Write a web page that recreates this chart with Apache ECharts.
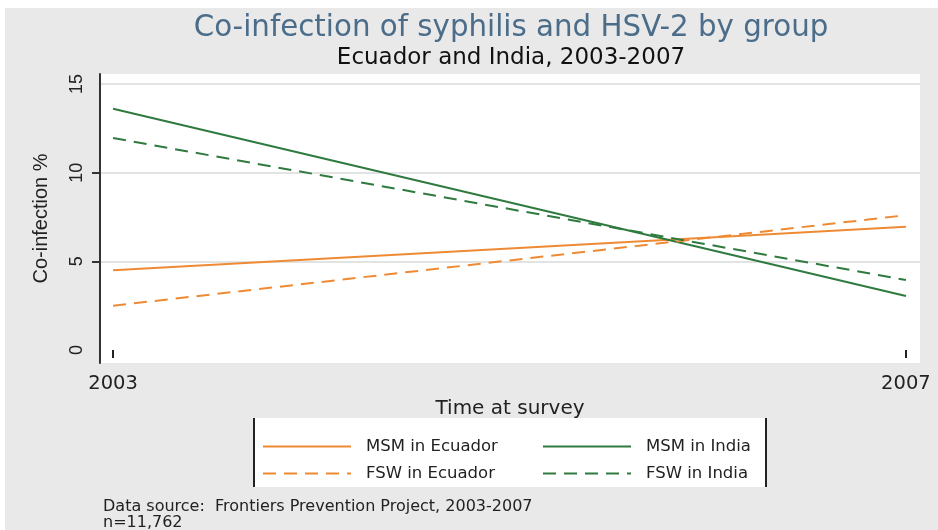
<!DOCTYPE html>
<html><head><meta charset="utf-8">
<script src="https://cdn.jsdelivr.net/npm/echarts@6/dist/echarts.min.js"></script>
<style>html,body{margin:0;padding:0;background:#fff}#c{width:938px;height:530px}</style>
</head><body><div id="c"></div>
<script>
var years = [2003, 2007];
var msmEcuador = [4.5, 6.95];
var fswEcuador = [2.5, 7.6];
var msmIndia = [13.6, 3.05];
var fswIndia = [11.95, 3.95];
var yLabels = [0, 5, 10, 15];
var yTickMarks = [5, 10];
var yGridLines = [5, 10, 15];
var xTicks = [2003, 2007];
var seriesNames = ['MSM in Ecuador', 'MSM in India', 'FSW in Ecuador', 'FSW in India'];

var ORANGE = '#ef8a34', GREEN = '#2f7a3f';
var WIDE = 'DejaVu Sans, Verdana, sans-serif';
var NARROW = 'Liberation Sans, Arial, sans-serif';
function pts(v){ return years.map(function(y,i){ return [y, v[i]]; }); }

var legendCommon = {
  orient: 'vertical', padding: 0,
  itemWidth: 88, itemHeight: 14, itemGap: 10,
  itemStyle: { opacity: 0 },
  textStyle: { fontSize: 16.5, color: '#222', lineHeight: 14, padding: [0, 0, 0, 10], fontFamily: WIDE }
};

var chart = echarts.init(document.getElementById('c'));
chart.setOption({
  animation: false,
  backgroundColor: 'transparent',
  textStyle: { fontFamily: WIDE },
  graphic: [
    { type: 'rect', z: -10, shape: { x: 5, y: 8, width: 933, height: 522 }, style: { fill: '#e9e9e9' } },
    { type: 'rect', z: -5, shape: { x: 253, y: 418, width: 514, height: 69 }, style: { fill: '#ffffff' } },
    { type: 'line', z: -4, shape: { x1: 254, y1: 418, x2: 254, y2: 487 }, style: { stroke: '#222', lineWidth: 2 } },
    { type: 'line', z: -4, shape: { x1: 766, y1: 418, x2: 766, y2: 487 }, style: { stroke: '#222', lineWidth: 2 } },
    { type: 'text', left: 103, top: 499, style: { text: 'Data source:  Frontiers Prevention Project, 2003-2007', font: '16px ' + WIDE, fill: '#222' } },
    { type: 'text', left: 103, top: 515, style: { text: 'n=11,762', font: '16px ' + WIDE, fill: '#222' } }
  ],
  title: [
    { text: 'Co-infection of syphilis and HSV-2 by group', left: 506, top: 9, textAlign: 'center',
      textStyle: { color: '#4b6d8a', fontSize: 29.3, fontWeight: 'normal', fontFamily: WIDE } },
    { text: 'Ecuador and India, 2003-2007', left: 506, top: 42, textAlign: 'center',
      textStyle: { color: '#111', fontSize: 23, fontWeight: 'normal', fontFamily: WIDE } }
  ],
  legend: [
    Object.assign({ data: [seriesNames[0], seriesNames[2]], left: 262, top: 438 }, legendCommon),
    Object.assign({ data: [seriesNames[1], seriesNames[3]], left: 542, top: 438 }, legendCommon)
  ],
  grid: { left: 100, right: 18, top: 74, bottom: 167, show: true, backgroundColor: '#ffffff', borderWidth: 0 },
  xAxis: {
    type: 'value', min: 2002.934, max: 2007.071,
    name: 'Time at survey', nameLocation: 'middle', nameGap: 29,
    nameTextStyle: { fontSize: 20, color: '#222', fontFamily: WIDE },
    axisLine: { show: false },
    axisTick: { show: true, length: 8, customValues: xTicks, lineStyle: { color: '#222', width: 2 } },
    axisLabel: { customValues: xTicks, margin: 11, fontSize: 19.5, color: '#222', fontFamily: WIDE, formatter: function(v){ return String(v); } },
    splitLine: { show: false }
  },
  yAxis: [
    {
      type: 'value', min: -0.73, max: 15.56,
      name: 'Co-infection %', nameLocation: 'middle', nameGap: 49, nameRotate: 90,
      nameTextStyle: { fontSize: 20, color: '#222', fontFamily: NARROW },
      axisLine: { show: true, lineStyle: { color: '#333', width: 2 } },
      axisTick: { show: true, length: 8, customValues: yTickMarks, lineStyle: { color: '#333', width: 2 } },
      axisLabel: { customValues: yLabels, rotate: 90, margin: 14, fontSize: 18, color: '#222', fontFamily: NARROW },
      splitLine: { show: false }
    },
    {
      type: 'value', min: -0.73, max: 15.56, position: 'left',
      axisLine: { show: false },
      axisTick: { show: false, customValues: yGridLines },
      axisLabel: { show: false, customValues: yGridLines },
      splitLine: { show: true, lineStyle: { color: '#e2e4e4', width: 2 } }
    }
  ],
  series: [
    { name: seriesNames[0], type: 'line', data: pts(msmEcuador), symbol: 'none', lineStyle: { color: ORANGE, width: 2 }, itemStyle: { color: ORANGE } },
    { name: seriesNames[1], type: 'line', data: pts(msmIndia), symbol: 'none', lineStyle: { color: GREEN, width: 2 }, itemStyle: { color: GREEN } },
    { name: seriesNames[2], type: 'line', data: pts(fswEcuador), symbol: 'none', lineStyle: { color: ORANGE, width: 2, type: [13, 8] }, itemStyle: { color: ORANGE } },
    { name: seriesNames[3], type: 'line', data: pts(fswIndia), symbol: 'none', lineStyle: { color: GREEN, width: 2, type: [13, 8] }, itemStyle: { color: GREEN } }
  ]
});
</script></body></html>
